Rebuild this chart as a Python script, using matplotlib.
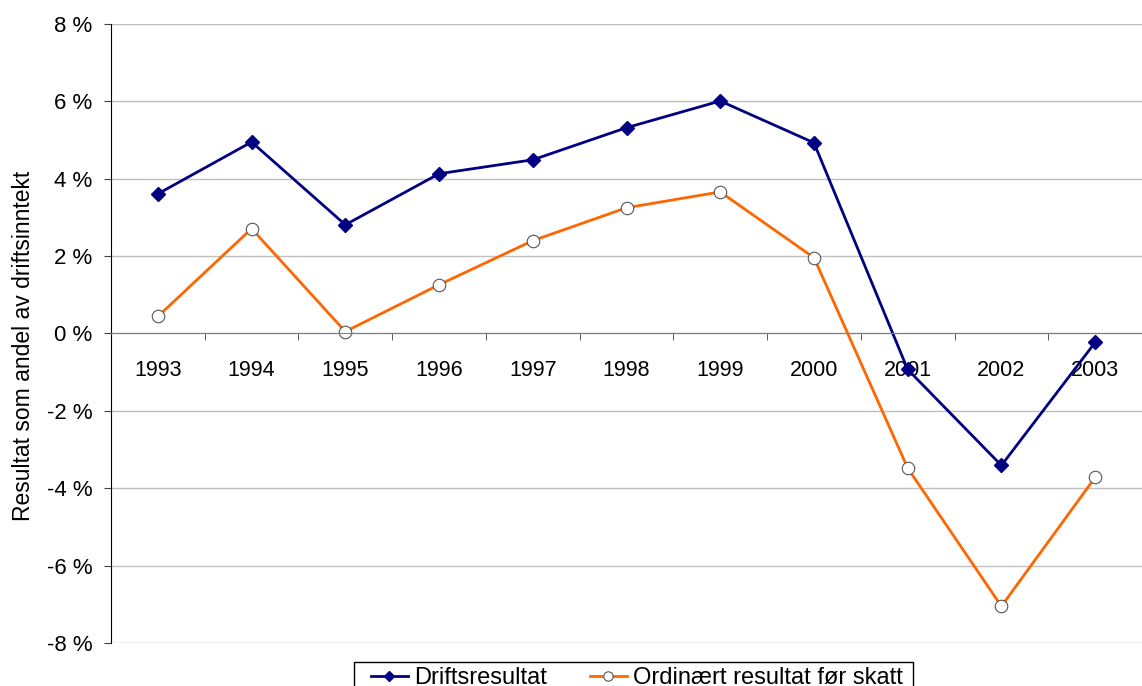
import matplotlib.pyplot as plt
from matplotlib.ticker import FixedLocator
from matplotlib.patches import Rectangle

years = ['1993', '1994', '1995', '1996', '1997', '1998', '1999', '2000', '2001', '2002', '2003']
drifts = [3.61, 4.95, 2.81, 4.13, 4.49, 5.32, 6.01, 4.93, -0.93, -3.41, -0.23]
ordinaert = [0.44, 2.71, 0.05, 1.26, 2.40, 3.25, 3.66, 1.96, -3.48, -7.05, -3.72]
yticks = [-8, -6, -4, -2, 0, 2, 4, 6, 8]

plt.rcParams['font.family'] = ['Liberation Sans', 'DejaVu Sans']

fig = plt.figure(figsize=(11.42, 6.86), dpi=100)
ax = fig.add_axes([0.0972, 0.0627, 0.9028, 0.9023])

# spines first: moving a spine resets the tick setup
ax.spines['top'].set_visible(False)
ax.spines['right'].set_visible(False)
ax.spines['bottom'].set_position(('data', 0))
ax.spines['bottom'].set_color('#808080')
ax.spines['left'].set_color('black')

x = list(range(len(years)))
ax.plot(x, drifts, color='#000080', lw=2, marker='D', ms=7,
        mfc='#000080', mec='#000080', label='Driftsresultat')
ax.plot(x, ordinaert, color='#FF6600', lw=2, marker='o', ms=9,
        mfc='white', mec='#555555', mew=0.8, label='Ordinært resultat før skatt')

ax.set_xlim(-0.5, len(years) - 0.5)
ax.set_ylim(-8, 8)
ax.set_yticks(yticks)
ax.set_yticklabels([f'{v} %' for v in yticks])
ax.yaxis.grid(True, color='#c0c0c0', lw=1)
ax.set_axisbelow(True)

ax.set_xticks(x)
ax.set_xticklabels(years)
ax.xaxis.set_minor_locator(FixedLocator([i + 0.5 for i in range(-1, len(years))]))
ax.tick_params(axis='x', which='major', length=0, pad=19, labelsize=15.5)
ax.tick_params(axis='x', which='minor', length=5, color='#404040', direction='out')
ax.tick_params(axis='y', length=5, color='#404040', pad=8.5, labelsize=16)

ax.set_ylabel('Resultat som andel av driftsinntekt', fontsize=16.5)
ax.yaxis.set_label_coords(-0.0737, 0.48)

leg = ax.legend(loc='upper center', bbox_to_anchor=(0.51, -0.031), ncol=2,
                fontsize=17, frameon=False,
                handlelength=1.6, columnspacing=1.8, borderpad=0.2,
                borderaxespad=0, handletextpad=0.25, markerscale=0.75)

# legend frame: a bit wider than the packed entries, like the original
fig.canvas.draw()
bb = leg.get_window_extent().transformed(fig.transFigure.inverted())
left_pad = 12 / fig.bbox.width
right_pad = 5 / fig.bbox.width
fig.patches.append(Rectangle((bb.x0 - left_pad, bb.y0), bb.width + left_pad + right_pad, bb.height,
                             transform=fig.transFigure, fill=False,
                             edgecolor='black', lw=1))

fig.savefig('out.png', dpi=100)
